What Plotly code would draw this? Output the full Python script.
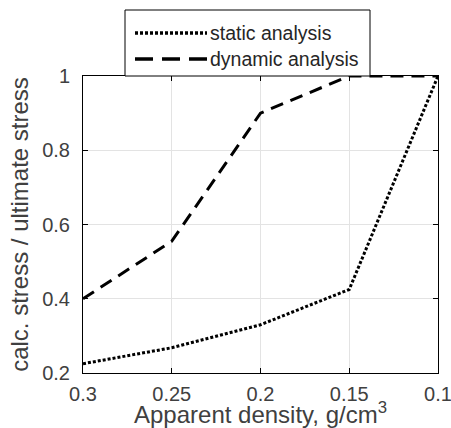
import plotly.graph_objects as go

# Apparent density (g/cm^3) and normalised stress for each analysis type
density = [0.3, 0.25, 0.2, 0.15, 0.1]
static_ratio = [0.225, 0.268, 0.33, 0.425, 1.0]
dynamic_ratio = [0.4, 0.555, 0.9, 1.0, 1.0]
series_names = ["static analysis", "dynamic analysis"]

DOT = "3px,2px"
DASH = "13px,8px"
LEGEND_DASH = "18px,9px"
FONT = "Liberation Sans, Arial, sans-serif"
TICK_COLOR = "#404040"

fig = go.Figure()
fig.add_trace(go.Scatter(x=density, y=static_ratio, mode="lines", name=series_names[0],
                         line=dict(color="black", width=3, dash=DOT), showlegend=False))
fig.add_trace(go.Scatter(x=density, y=dynamic_ratio, mode="lines", name=series_names[1],
                         line=dict(color="black", width=3, dash=DASH), showlegend=False))

axis_common = dict(showline=True, linecolor="black", linewidth=1, mirror="ticks",
                   ticks="inside", ticklen=5, tickcolor="black", automargin=False,
                   ticklabeloverflow="allow",
                   showgrid=True, gridcolor="#e3e3e3", gridwidth=1, zeroline=False,
                   tickfont=dict(family=FONT, size=20, color=TICK_COLOR))

fig.update_xaxes(range=[0.3, 0.1], dtick=0.05, tick0=0.1, ticklabelstandoff=3,
                 title=dict(text="Apparent density, g/cm<sup>3</sup>",
                            font=dict(family=FONT, size=24, color=TICK_COLOR), standoff=0),
                 **axis_common)
fig.update_yaxes(range=[0.2, 1.0], dtick=0.2, tick0=0.2, ticklabelstandoff=8,
                 title=dict(text="calc. stress / ultimate stress",
                            font=dict(family=FONT, size=24, color=TICK_COLOR), standoff=6),
                 **axis_common)

# Custom legend box with long line samples, placed above the plot area
L, R, T, B = 83, 438, 76, 373
W, H = R - L, B - T
def px(x):
    return (x - L) / W
def py(y):
    return (B - y) / H

fig.add_shape(type="rect", xref="paper", yref="paper",
              x0=px(125), x1=px(370), y0=py(76), y1=py(10),
              line=dict(color="black", width=1), fillcolor="white", layer="above")
for i, (name, dash) in enumerate(zip(series_names, [DOT, LEGEND_DASH])):
    yc = 33 + 26 * i
    fig.add_shape(type="line", xref="paper", yref="paper",
                  x0=px(135), x1=px(207), y0=py(yc), y1=py(yc),
                  line=dict(color="black", width=3.5, dash=dash), layer="above")
    fig.add_annotation(xref="paper", yref="paper", x=px(208), y=py(yc),
                       text=name, showarrow=False, xanchor="left", yanchor="middle",
                       font=dict(family=FONT, size=19.5, color="#262626"))

fig.update_layout(width=451, height=428, margin=dict(l=L, r=451 - R, t=T, b=428 - B),
                  plot_bgcolor="white", paper_bgcolor="white", showlegend=False)

fig.write_html("out.html")
